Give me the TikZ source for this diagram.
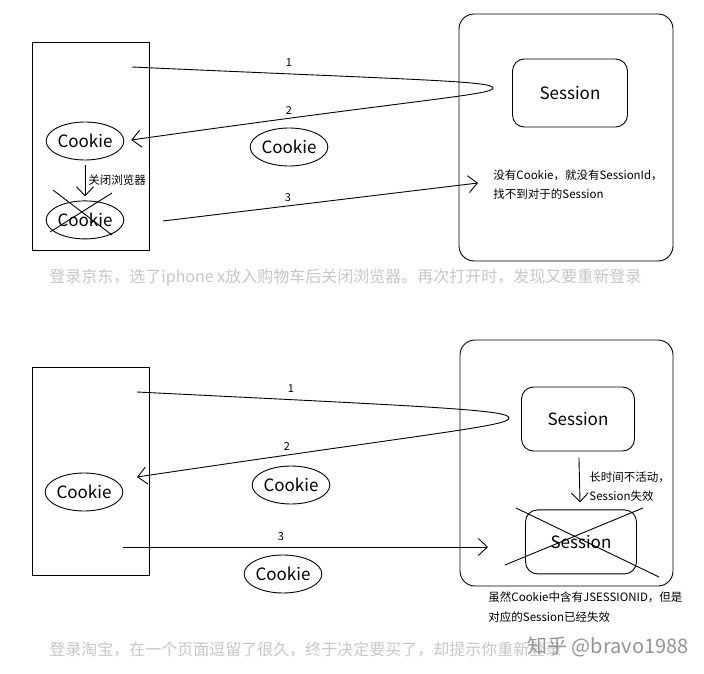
\documentclass[tikz,border=0pt]{standalone}
\usepackage{fontspec}
\setmainfont{Noto Sans CJK SC}
\usepackage{tikz}
\usetikzlibrary{arrows.meta}
\usetikzlibrary{positioning}
\usetikzlibrary{shapes.geometric}
\tikzset{>={Straight Barb[length=9pt,width=17pt]}}
\tikzset{
    cookie/.style={draw, ellipse, minimum width=76pt, minimum height=38pt,
        inner sep=0pt, font=\fontsize{17}{20}\selectfont},
    sessbox/.style={draw, rounded corners=12pt, minimum width=114pt,
        minimum height=66pt, font=\fontsize{17}{20}\selectfont},
    note/.style={anchor=west, inner sep=0pt, font=\fontsize{11.5}{14}\selectfont},
    numlabel/.style={inner sep=0pt, font=\fontsize{11}{13}\selectfont},
    caption/.style={anchor=west, inner sep=0pt, text=black!22,
        font=\fontsize{16}{19}\selectfont}
}

\begin{document}
\begin{tikzpicture}[x=1pt, y=-1pt, line width=0.9pt]
            \path[fill=white, use as bounding box] (0,0) rectangle (704,674);
            % top: browser closed, cookie gone
            \draw (32,42) rectangle (149,250);
            \draw [rounded corners=15pt] (459,14) rectangle (673,261);
            \node [sessbox, minimum width=115pt, minimum height=68pt] (SessA) at (570,93) {Session};
            \node [cookie] (CookieA) at (85,141) {Cookie};
            \node [cookie, below=40pt of CookieA] (CookieB) {Cookie};
            \node [cookie] (CookieM) at (289,147) {Cookie};
            \draw [->, shorten <=5pt, shorten >=4pt] (CookieA)--(CookieB)
                node [note, midway, xshift=3pt] {关闭浏览器};
            \draw (53,190)--(112,235);
            \draw (112,193)--(50,232);
            \coordinate (ReqA) at (132,67);
            \coordinate (TurnA) at (493,88);
            \draw [->, shorten >=7pt] (ReqA) .. controls (420,80) and (493,81) .. (TurnA)
                .. controls (493,95) and (420,99) .. (CookieA.east);
            \coordinate (ResendA) at (163,221);
            \coordinate (HitA) at (478,183);
            \draw [->] (ResendA)--(HitA);
            \node [numlabel] (NumA1) at (289,63) {1};
            \node [numlabel] (NumA2) at (289,111) {2};
            \node [numlabel] (NumA3) at (288,198) {3};
            \node [note] (NoteA) at (493,175) {没有Cookie，就没有SessionId，};
            \node [note] (NoteA2) at (493,194) {找不到对于的Session};
            \node [caption] (CapA) at (49,278) {登录京东，选了iphone x放入购物车后关闭浏览器。再次打开时，发现又要重新登录};
            % bottom: session expired on the server
            \draw (32,367) rectangle (149,575);
            \draw [rounded corners=15pt] (460,340) rectangle (673,586);
            \node [sessbox, minimum width=113pt, minimum height=64pt] (SessB) at (578,419) {Session};
            \node [sessbox, minimum width=111pt, minimum height=64pt, below=58pt of SessB, xshift=3pt] (SessC) {Session};
            \draw [->, shorten <=6pt, shorten >=7pt] (SessB)--(SessC);
            \node [note] (NoteB1) at (589,477) {长时间不活动，};
            \node [note] (NoteB2) at (589,496) {Session失效};
            \draw (516,508)--(659,577);
            \draw (505,565)--(643,508);
            \node [cookie] (CookieC) at (84,492) {Cookie};
            \node [cookie] (CookieD) at (291,485) {Cookie};
            \node [cookie] (CookieE) at (283,574) {Cookie};
            \coordinate (ReqB) at (137,392);
            \coordinate (TurnB) at (509,418);
            \coordinate (BackB) at (137,477);
            \draw [->] (ReqB) .. controls (440,407) and (509,410) .. (TurnB)
                .. controls (509,426) and (440,432) .. (BackB);
            \coordinate (ResendB) at (123,547);
            \coordinate (HitB) at (488,547);
            \draw [->] (ResendB)--(HitB);
            \node [numlabel] (NumB1) at (291,389) {1};
            \node [numlabel] (NumB2) at (287,447) {2};
            \node [numlabel] (NumB3) at (281,537) {3};
            \node [note] (NoteC1) at (488,597) {虽然Cookie中含有JSESSIONID，但是};
            \node [note] (NoteC2) at (488,617) {对应的Session已经失效};
            \node [caption] (CapB) at (49,650) {登录淘宝，在一个页面逗留了很久，终于决定要买了，却提示你重新登录};
            \node [anchor=west, inner sep=0pt, text=black!42, font=\fontsize{20}{24}\selectfont] (Mark) at (527,647) {知乎 @bravo1988};
\end{tikzpicture}
\end{document}
